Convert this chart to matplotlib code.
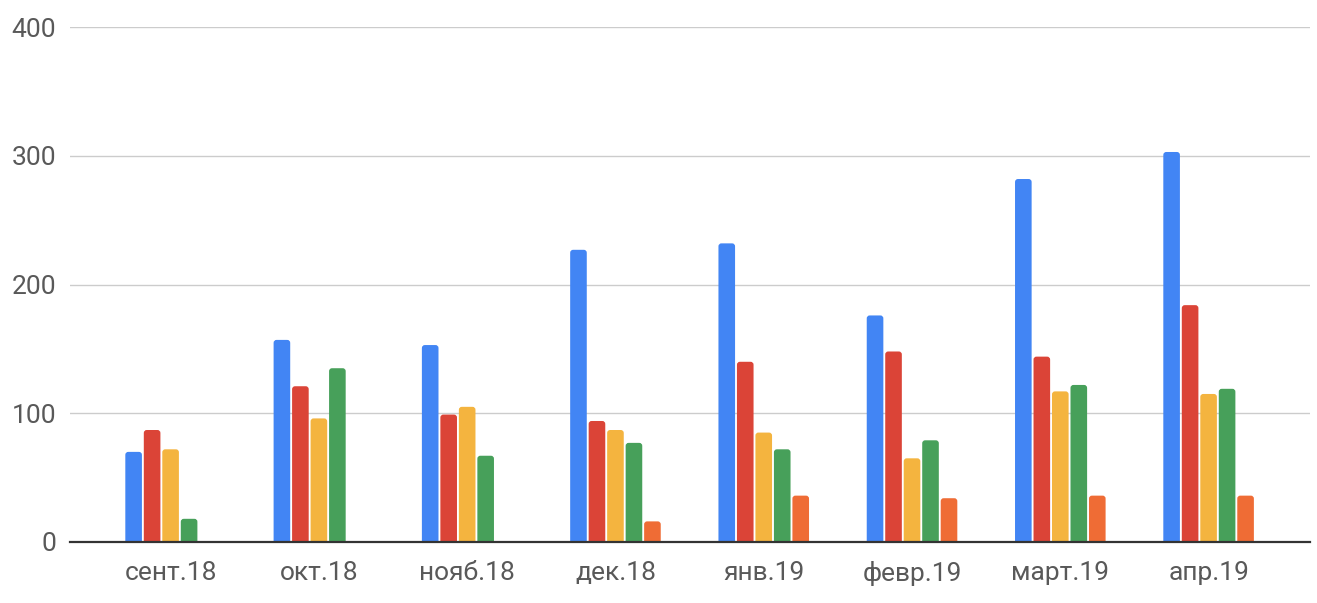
import numpy as np
import matplotlib.pyplot as plt
from matplotlib.patches import FancyBboxPatch

months = ['сент.18', 'окт.18', 'нояб.18', 'дек.18', 'янв.19', 'февр.19', 'март.19', 'апр.19']
series_blue = [70, 157, 153, 227, 232, 176, 282, 303]
series_red = [87, 121, 99, 94, 140, 148, 144, 184]
series_yellow = [72, 96, 105, 87, 85, 65, 117, 115]
series_green = [18, 135, 67, 77, 72, 79, 122, 119]
series_orange = [0, 0, 0, 16, 36, 34, 36, 36]
y_ticks = [0, 100, 200, 300, 400]

series = [series_blue, series_red, series_yellow, series_green, series_orange]
colors = ['#4285F4', '#DB4437', '#F4B43F', '#47A05A', '#EF6C35']

plt.rcParams['font.family'] = ['Roboto', 'DejaVu Sans']

fig = plt.figure(figsize=(13.17, 6.03), dpi=100)
ax = fig.add_axes([0.0532, 0.1012, 0.9415, 0.8538])
ax.set_xlim(-0.678, 7.684)
ax.set_ylim(0, 400)

x = np.arange(len(months))
pitch = 0.1247
width = 0.112
r_x = 0.02          # corner radius in x data units (~3 px)
r_y = 2.3           # same radius in y data units
for i, (vals, c) in enumerate(zip(series, colors)):
    offs = (i - 2) * pitch
    vals = np.array(vals, dtype=float)
    mask = vals > 0
    bars = ax.bar(x[mask] + offs, vals[mask], width=width, color=c, zorder=3)
    # swap plain rectangles for ones with rounded top corners
    for rect in bars:
        rect.set_visible(False)
        rb = FancyBboxPatch((rect.get_x(), -r_y * 2), rect.get_width(),
                            rect.get_height() + r_y * 2,
                            boxstyle=f'round,pad=0,rounding_size={r_x}',
                            mutation_aspect=r_y / r_x,
                            facecolor=c, edgecolor='none', zorder=3)
        ax.add_patch(rb)

ax.set_yticks(y_ticks)
ax.set_xticks(x)
ax.set_xticklabels(months)
ax.grid(axis='y', color='#cccccc', linewidth=1.0, zorder=0)
for s in ['top', 'right', 'left']:
    ax.spines[s].set_visible(False)
ax.spines['bottom'].set_color('#333333')
ax.spines['bottom'].set_linewidth(1.6)
ax.spines['bottom'].set_zorder(4)
ax.tick_params(axis='both', length=0, labelsize=19, labelcolor='#595959')
ax.tick_params(axis='y', pad=10)
ax.tick_params(axis='x', pad=14)

fig.savefig('out.png', dpi=100)
